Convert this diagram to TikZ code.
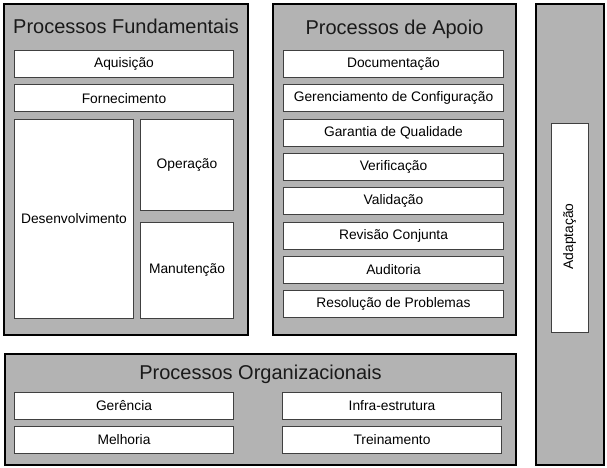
\documentclass[tikz,border=0pt]{standalone}
\usepackage{fontspec}
\setmainfont{Liberation Sans}
\usepackage{tikz}
\usetikzlibrary{positioning}
\definecolor{prgray}{HTML}{B3B3B3}
\definecolor{predge}{HTML}{404040}
\definecolor{prink}{HTML}{1A1A1A}

\begin{document}
\begin{tikzpicture}[
      x=1pt, y=-1pt,
      grp/.style={draw=black, line width=2pt, fill=prgray, inner sep=0pt,
                  anchor=north west},
      item/.style={draw=predge, line width=1pt, fill=white, inner sep=0pt,
                   anchor=north west, minimum width=219pt, minimum height=27pt,
                   align=center, font=\fontsize{13.8}{16}\selectfont},
      ttl/.style={font=\fontsize{20}{24}\selectfont, color=prink,
                  inner sep=0pt, anchor=base},
    ]
    \useasboundingbox (0,0) rectangle (607,467);

    % ---------- group frames ----------
    \node[grp, minimum width=244pt, minimum height=331pt] (fund) at (3,3) {};
    \node[grp, minimum width=243pt, minimum height=331pt] (apoio) at (272,3) {};
    \node[grp, minimum width=68pt, minimum height=461pt] (adapt) at (535,3) {};
    \node[grp, minimum width=511pt, minimum height=111pt] (org) at (4,353) {};

    \node[ttl] at ([yshift=-30pt]fund.north) {Processos Fundamentais};
    \node[ttl] at ([yshift=-31pt]apoio.north) {Processos de Apoio};
    \node[ttl] at ([yshift=-26pt]org.north) {Processos Organizacionais};

    % ---------- Processos Fundamentais ----------
    \node[item] (aquis) at (14,50) {Aquisição};
    \node[item, below=6.3pt of aquis] (forn) {Fornecimento};
    \node[item, below right=6.3pt and 0pt of forn.south west,
          minimum width=119pt, minimum height=199pt] (desenv) {Desenvolvimento};
    \node[item, below right=0pt and 6pt of desenv.north east,
          minimum width=93pt, minimum height=91pt] (oper) {Operação};
    \node[item, below=11pt of oper, minimum width=93pt,
          minimum height=96pt] (manut) {Manutenção};

    % ---------- Processos de Apoio ----------
    \node[item, minimum width=220pt] (doc) at (283,50) {Documentação};
    \node[item, below=6.3pt of doc, minimum width=220pt] (gconf)
      {Gerenciamento de Configuração};
    \node[item, below=6.3pt of gconf, minimum width=220pt] (gqual)
      {Garantia de Qualidade};
    \node[item, below=6.3pt of gqual, minimum width=220pt] (verif) {Verificação};
    \node[item, below=6.3pt of verif, minimum width=220pt] (valid) {Validação};
    \node[item, below=6.3pt of valid, minimum width=220pt] (rev) {Revisão Conjunta};
    \node[item, below=6.3pt of rev, minimum width=220pt] (audit) {Auditoria};
    \node[item, below=6.3pt of audit, minimum width=220pt] (resol)
      {Resolução de Problemas};

    % ---------- Adaptação ----------
    \node[item, anchor=center, rotate=90, minimum width=209pt,
          minimum height=37pt] (adapta) at (569.5,227.5)
      {Adaptação\hspace*{18pt}};

    % ---------- Processos Organizacionais ----------
    \node[item] (ger) at (14,392) {Gerência};
    \node[item, below=6pt of ger] (melh) {Melhoria};
    \node[item] (infra) at (282,392) {Infra-estrutura};
    \node[item, below=6pt of infra] (trein) {Treinamento};

  \end{tikzpicture}
\end{document}
